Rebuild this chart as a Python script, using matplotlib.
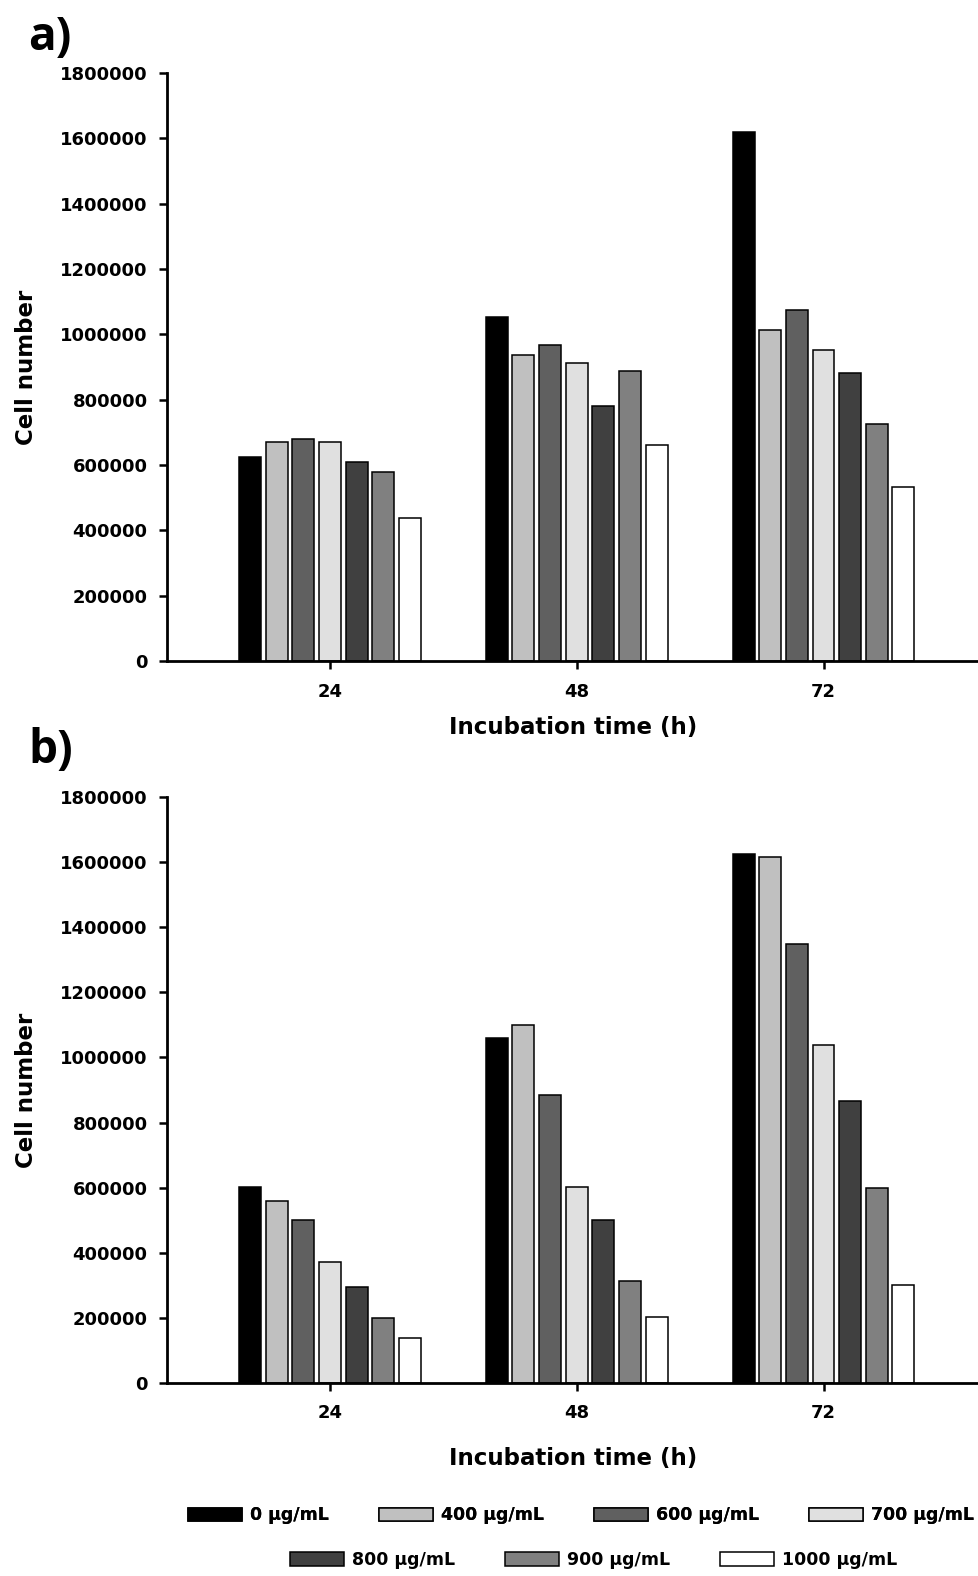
import matplotlib.pyplot as plt
from matplotlib.patches import Patch

# Datos
times = ["24", "48", "72"]
doses = ["0 µg/mL", "400 µg/mL", "600 µg/mL", "700 µg/mL",
         "800 µg/mL", "900 µg/mL", "1000 µg/mL"]
colors = ["#000000", "#c0c0c0", "#606060", "#e0e0e0", "#404040", "#808080", "#ffffff"]

# panel a: una lista por dosis (24, 48, 72 h)
a_0 = [625000, 1054000, 1618000]
a_400 = [669000, 937000, 1013000]
a_600 = [680000, 967000, 1075000]
a_700 = [669000, 911000, 952000]
a_800 = [609000, 781000, 882000]
a_900 = [578000, 888000, 726000]
a_1000 = [438000, 660000, 534000]

# panel b
b_0 = [603000, 1059000, 1626000]
b_400 = [558000, 1100000, 1615000]
b_600 = [502000, 886000, 1348000]
b_700 = [371000, 602000, 1038000]
b_800 = [296000, 502000, 866000]
b_900 = [199000, 314000, 599000]
b_1000 = [137000, 203000, 300000]

panel_a = [a_0, a_400, a_600, a_700, a_800, a_900, a_1000]
panel_b = [b_0, b_400, b_600, b_700, b_800, b_900, b_1000]

plt.rcParams['font.family'] = ['DejaVu Sans']

fig = plt.figure(figsize=(9.79, 15.76), dpi=100)
ax_a = fig.add_axes([0.1706, 0.5806, 0.8294, 0.3731])
ax_b = fig.add_axes([0.1706, 0.1225, 0.8294, 0.3718])

step = 0.108
width = 0.089
pos = [1, 2, 3]

for ax, series, xl_y in [(ax_a, panel_a, -0.093), (ax_b, panel_b, -0.110)]:
    for i, vals in enumerate(series):
        x = [p + (i - 3) * step for p in pos]
        ax.bar(x, vals, width, color=colors[i], edgecolor='black', linewidth=1.1)
    ax.set_xlim(0.34, 3.63)
    ax.set_ylim(0, 1800000)
    ax.set_yticks(range(0, 1800001, 200000))
    ax.set_yticklabels([str(v) for v in range(0, 1800001, 200000)],
                       fontsize=13, fontweight='bold')
    ax.set_xticks(pos)
    ax.set_xticklabels(times, fontsize=13, fontweight='bold')
    ax.spines['top'].set_visible(False)
    ax.spines['right'].set_visible(False)
    ax.spines['left'].set_linewidth(2)
    ax.spines['bottom'].set_linewidth(2)
    ax.tick_params(axis='both', width=1.8, length=5.5)
    ax.tick_params(axis='x', pad=10)
    ax.tick_params(axis='y', pad=8.5)
    ax.set_ylabel('Cell number', fontsize=16.5, fontweight='bold')
    ax.yaxis.set_label_coords(-0.159, 0.5)
    ax.set_xlabel('Incubation time (h)', fontsize=16.5, fontweight='bold')
    ax.xaxis.set_label_coords(0.5, xl_y)

fig.text(0.029, 0.9762, 'a)', fontsize=33, fontweight='bold', family='Open Sans', va='center')
fig.text(0.029, 0.5241, 'b)', fontsize=33, fontweight='bold', family='Open Sans', va='center')

handles = [Patch(facecolor=c, edgecolor='black', linewidth=1.1) for c in colors]
leg1 = fig.legend(handles[:4], doses[:4], loc='center', bbox_to_anchor=(0.5936, 0.0385),
                  ncol=4, frameon=False, handlelength=3.1, handleheight=0.8,
                  columnspacing=2.9, handletextpad=0.45, borderpad=0,
                  prop={'size': 12.5, 'weight': 'bold'})
fig.add_artist(leg1)
fig.legend(handles[4:], doses[4:], loc='center', bbox_to_anchor=(0.6063, 0.0102),
           ncol=3, frameon=False, handlelength=3.1, handleheight=0.8,
           columnspacing=2.9, handletextpad=0.45, borderpad=0,
           prop={'size': 12.5, 'weight': 'bold'})

fig.savefig('out.png', dpi=100)
